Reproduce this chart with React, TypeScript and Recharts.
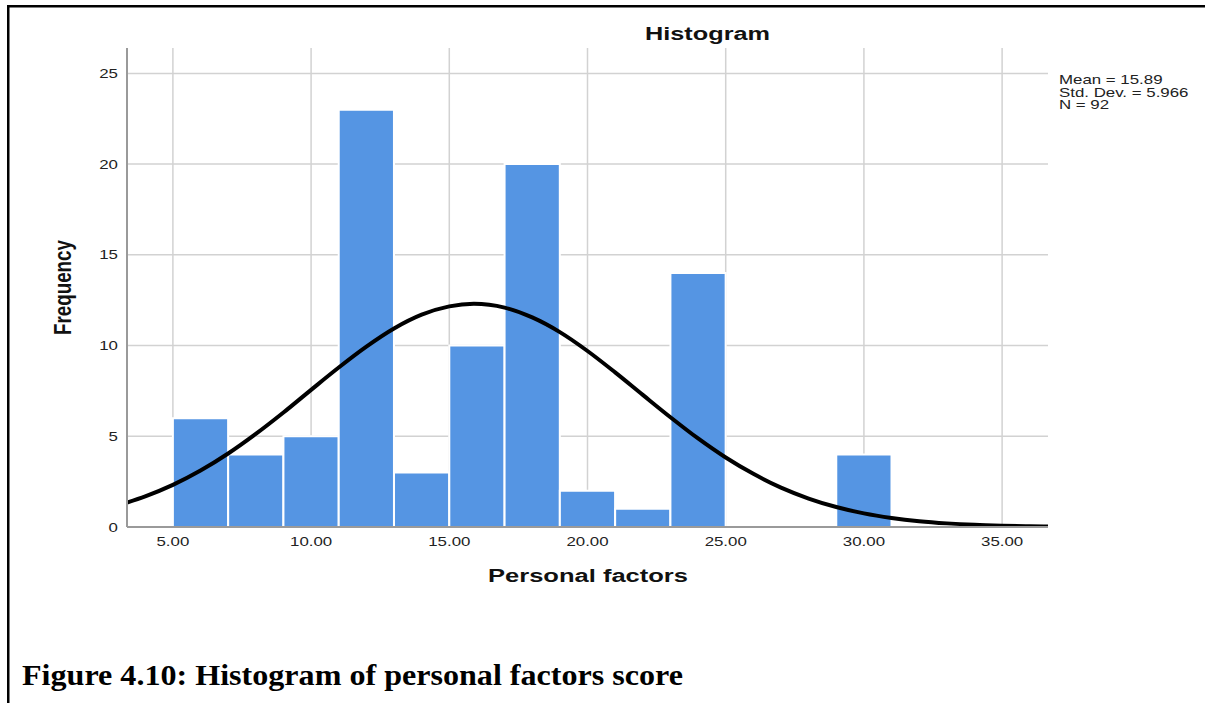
import React from "react";
import {
  ComposedChart,
  Bar,
  Line,
  XAxis,
  YAxis,
  CartesianGrid,
} from "recharts";

// ---- data ----
const BIN_CENTERS = [6, 8, 10, 12, 14, 16, 18, 20, 22, 24, 26, 28, 30];
const FREQUENCIES = [6, 4, 5, 23, 3, 10, 20, 2, 1, 14, 0, 0, 4];
const BIN_WIDTH = 2;

const CURVE_X = [
  3.34, 4, 5, 6, 7, 8, 9, 10, 11, 12, 13, 14, 15, 15.89, 17, 18, 19, 20, 21,
  22, 23, 24, 25, 26, 27, 28, 29, 30, 31, 32, 33, 34, 35, 36, 36.66,
];
const CURVE_Y = [
  1.35, 1.69, 2.32, 3.11, 4.05, 5.13, 6.31, 7.56, 8.79, 9.94, 10.94, 11.7,
  12.16, 12.3, 12.09, 11.55, 10.74, 9.7, 8.52, 7.28, 6.05, 4.88, 3.83, 2.93,
  2.17, 1.57, 1.1, 0.75, 0.5, 0.32, 0.2, 0.12, 0.073, 0.042, 0.029,
];

const X_TICKS = [5, 10, 15, 20, 25, 30, 35];
const Y_TICKS = [0, 5, 10, 15, 20, 25];
const X_DOMAIN: [number, number] = [3.34, 36.66];
const Y_DOMAIN: [number, number] = [0, 26.4];

const STATS = ["Mean = 15.89", "Std. Dev. = 5.966", "N = 92"];
const TITLE = "Histogram";
const X_LABEL = "Personal factors";
const Y_LABEL = "Frequency";
const CAPTION = "Figure 4.10: Histogram of personal factors score";

// ---- layout ----
const W = 1205;
const H = 703;
const PLOT_LEFT = 127;
const PLOT_RIGHT = 1048;
const PLOT_TOP = 48;
const PLOT_BOTTOM = 527;
const Y_AXIS_W = 60;
const X_AXIS_H = 30;
const PLOT_W = PLOT_RIGHT - PLOT_LEFT;
const BAR_PX = (PLOT_W / (X_DOMAIN[1] - X_DOMAIN[0])) * BIN_WIDTH - 0.05;

const barData = BIN_CENTERS.map((x, i) => ({ x, freq: FREQUENCIES[i] }));
const curveData = CURVE_X.map((x, i) => ({ x, fit: CURVE_Y[i] }));

const FONT = "Arial, 'Liberation Sans', sans-serif";
const STRETCH = 1.35;

const XTick = (props: any) => {
  const { x, payload } = props;
  return (
    <g transform={`translate(${x},${PLOT_BOTTOM + 19})`}>
      <text
        x={0}
        y={0}
        textAnchor="middle"
        fontFamily={FONT}
        fontSize={12.5}
        fill="#222"
        transform={`scale(${STRETCH},1)`}
      >
        {Number(payload.value).toFixed(2)}
      </text>
    </g>
  );
};

const YTick = (props: any) => {
  const { y, payload } = props;
  return (
    <g transform={`translate(${PLOT_LEFT - 9},${y + 4.5})`}>
      <text
        x={0}
        y={0}
        textAnchor="end"
        fontFamily={FONT}
        fontSize={12.5}
        fill="#222"
        transform={`scale(${STRETCH},1)`}
      >
        {payload.value}
      </text>
    </g>
  );
};

export default function App() {
  return (
    <div
      style={{
        position: "absolute",
        left: 0,
        top: 0,
        width: W,
        height: H,
        background: "#fff",
        overflow: "hidden",
      }}
    >
      <ComposedChart
        width={W}
        height={H}
        data={barData}
        margin={{
          top: PLOT_TOP,
          right: W - PLOT_RIGHT,
          bottom: H - PLOT_BOTTOM - X_AXIS_H,
          left: PLOT_LEFT - Y_AXIS_W,
        }}
      >
        <CartesianGrid
          stroke="#d2d2d2"
          strokeWidth={1.5}
          verticalValues={X_TICKS}
          horizontalValues={Y_TICKS}
        />
        <XAxis
          dataKey="x"
          type="number"
          domain={X_DOMAIN}
          ticks={X_TICKS}
          allowDataOverflow
          height={X_AXIS_H}
          tickLine={false}
          axisLine={{ stroke: "#9a9a9a", strokeWidth: 2 }}
          tick={<XTick />}
          interval={0}
        />
        <XAxis
          xAxisId="bars"
          dataKey="x"
          type="number"
          domain={X_DOMAIN}
          allowDataOverflow
          hide
        />
        <YAxis
          type="number"
          domain={Y_DOMAIN}
          ticks={Y_TICKS}
          allowDataOverflow
          width={Y_AXIS_W}
          tickLine={false}
          axisLine={{ stroke: "#9a9a9a", strokeWidth: 2 }}
          tick={<YTick />}
          interval={0}
        />
        <Bar
          xAxisId="bars"
          dataKey="freq"
          fill="#5595e3"
          stroke="#ffffff"
          strokeWidth={2}
          barSize={BAR_PX}
          isAnimationActive={false}
        />
        <Line
          data={curveData}
          dataKey="fit"
          type="monotone"
          stroke="#000"
          strokeWidth={4}
          dot={false}
          activeDot={false}
          isAnimationActive={false}
        />
      </ComposedChart>
      <svg
        width={W}
        height={H}
        style={{ position: "absolute", left: 0, top: 0, pointerEvents: "none" }}
      >
        <rect x={7} y={5} width={W - 7} height={2.5} fill="#000" />
        <rect x={7} y={5} width={2.5} height={H - 5} fill="#000" />
        <text
          x={645}
          y={40}
          fontFamily={FONT}
          fontWeight="bold"
          fontSize={18}
          textLength={125}
          lengthAdjust="spacingAndGlyphs"
          fill="#111"
        >
          {TITLE}
        </text>
        <text
          x={488}
          y={582}
          fontFamily={FONT}
          fontWeight="bold"
          fontSize={18}
          textLength={200}
          lengthAdjust="spacingAndGlyphs"
          fill="#111"
        >
          {X_LABEL}
        </text>
        <text
          transform={`translate(71,335) scale(1.3,1) rotate(-90)`}
          x={0}
          y={0}
          fontFamily={FONT}
          fontWeight="bold"
          fontSize={18}
          textLength={95}
          lengthAdjust="spacingAndGlyphs"
          fill="#111"
        >
          {Y_LABEL}
        </text>
        {STATS.map((s, i) => (
          <g key={s} transform={`translate(1059,${84 + i * 12.5})`}>
            <text
              x={0}
              y={0}
              fontFamily={FONT}
              fontSize={12.5}
              fill="#222"
              transform={`scale(${STRETCH},1)`}
            >
              {s}
            </text>
          </g>
        ))}
        <text
          x={22}
          y={685}
          fontFamily="'Times New Roman', 'Liberation Serif', serif"
          fontWeight="bold"
          fontSize={29}
          textLength={661}
          lengthAdjust="spacingAndGlyphs"
          fill="#000"
        >
          {CAPTION}
        </text>
      </svg>
    </div>
  );
}
